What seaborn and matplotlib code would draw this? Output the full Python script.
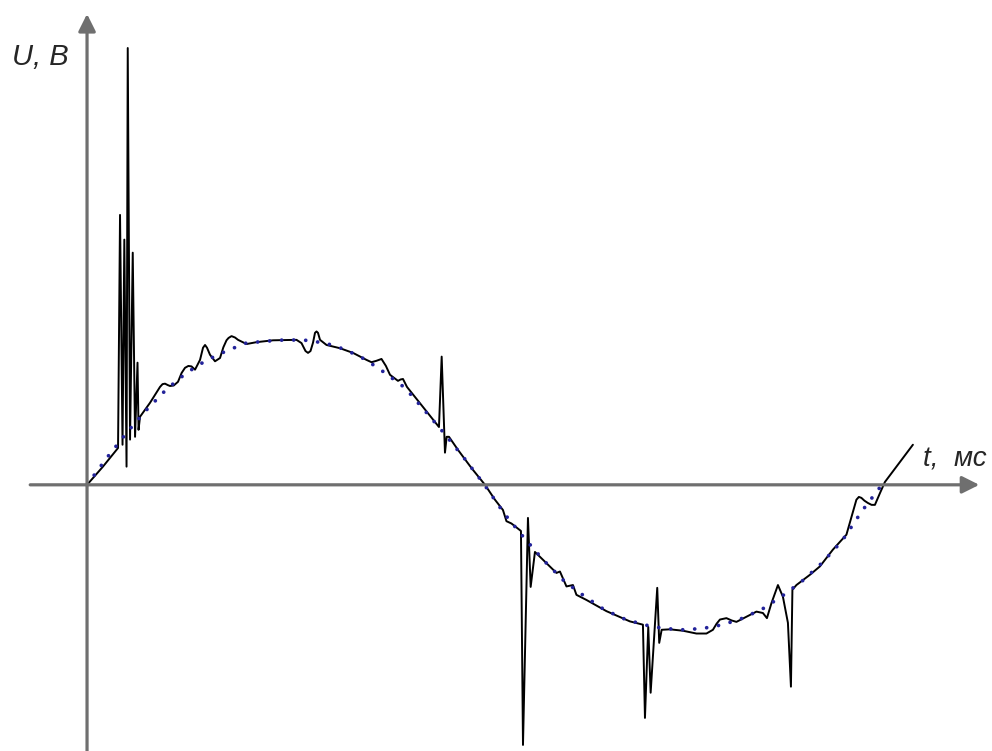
import matplotlib
matplotlib.use("Agg")
import matplotlib.pyplot as plt
import seaborn as sns

solid_t = [0.0, 0.40, 0.78, 0.83, 0.893, 0.938, 0.994, 1.024, 1.082, 1.150,
           1.208, 1.270, 1.296, 1.333, 1.585, 1.836, 1.900, 1.962, 2.030, 2.088,
           2.180, 2.289, 2.380, 2.465, 2.550, 2.629, 2.717, 2.843, 2.918, 2.969,
           3.019, 3.094, 3.220, 3.346, 3.430, 3.509, 3.560, 3.635, 3.723, 3.799,
           4.013, 4.264, 4.679, 5.270, 5.396, 5.497, 5.560, 5.623, 5.686, 5.736,
           5.774, 5.811, 5.862, 6.025, 6.365, 6.692, 7.031, 7.157, 7.280, 7.409,
           7.520, 7.623, 7.824, 7.890, 7.950, 8.050, 8.855, 8.923, 9.006, 9.049,
           9.107, 9.333, 9.673, 10.013, 10.264, 10.465, 10.553, 10.679, 10.918, 10.969,
           11.094, 11.162, 11.270, 11.522, 11.811, 11.899, 12.063, 12.226, 12.314, 12.566,
           13.069, 13.660, 13.987, 14.038, 14.121, 14.181, 14.347, 14.397, 14.458, 14.667,
           14.994, 15.333, 15.585, 15.748, 15.840, 15.925, 16.088, 16.220, 16.340, 16.591,
           16.843, 17.006, 17.107, 17.220, 17.384, 17.509, 17.635, 17.711, 17.748, 17.849,
           18.189, 18.440, 18.767, 19.107, 19.270, 19.358, 19.420, 19.484, 19.560, 19.648,
           19.740, 19.824, 19.950, 20.075, 20.780]
solid_u = [0, 39, 79, 579, 86, 526, 39, 937, 97, 498,
           103, 262, 118, 146, 176, 210, 216, 217, 214, 212,
           213, 221, 240, 251, 255, 254, 247, 268, 294, 300,
           294, 279, 265, 272, 295, 310, 315, 319, 316, 311,
           302, 306, 310, 311, 304, 287, 283, 287, 305, 326,
           329, 326, 311, 300, 293, 283, 268, 263, 266, 270,
           255, 236, 223, 226, 227, 210, 124, 275, 69, 103,
           103, 75, 36, 0, -32, -54, -78, -83, -99, -558,
           -71, -219, -144, -165, -189, -186, -218, -215, -236, -247,
           -271, -293, -300, -500, -305, -446, -221, -339, -311, -310,
           -313, -319, -319, -311, -298, -289, -286, -291, -294, -283,
           -272, -275, -286, -254, -215, -240, -296, -433, -225, -215,
           -193, -175, -139, -107, -58, -32, -26, -28, -34, -39,
           -43, -43, -18, 6, 86]

# reference wave (dotted), every 0.5 ms
ref_t = [0.0, 0.5, 1.0, 1.5, 2.0, 2.5, 3.0, 3.5, 4.0, 4.5,
         5.0, 5.5, 6.0, 6.5, 7.0, 7.5, 8.0, 8.5, 9.0, 9.5,
         10.0, 10.5, 11.0, 11.5, 12.0, 12.5, 13.0, 13.5, 14.0, 14.5,
         15.0, 15.5, 16.0, 16.5, 17.0, 17.5, 18.0, 18.5, 19.0, 19.5, 20.0]
ref_u = [0, 58, 112, 161, 205, 240, 267, 287, 304, 308,
         311, 310, 304, 290, 269, 240, 208, 159, 109, 56,
         0, -62, -114, -163, -206, -238, -267, -287, -300, -308,
         -311, -308, -300, -286, -266, -238, -206, -167, -120, -56, 0]

axis_gray = "#6f6f6f"

sns.set_style("white")
fig = plt.figure(figsize=(9.92, 7.51), dpi=100)
ax = fig.add_axes([0, 0, 1, 1])

sns.lineplot(x=solid_t, y=solid_u, ax=ax, color="black", lw=1.4,
             sort=False, estimator=None)
sns.lineplot(x=ref_t, y=ref_u, ax=ax, color="#23239a", lw=2.7,
             linestyle=(0, (0.01, 3.2)), dash_capstyle="round",
             sort=False, estimator=None)

ax.set_xlim(-2.19, 22.77)
ax.set_ylim(-571, 1040)
ax.axis("off")

# axes with arrows through the origin
ax.annotate("", xy=(22.45, 0), xytext=(-1.43, 0),
            arrowprops=dict(arrowstyle="-|>", color=axis_gray, lw=2.3,
                            mutation_scale=26, shrinkA=0, shrinkB=0))
ax.annotate("", xy=(0, 1010), xytext=(0, -575),
            arrowprops=dict(arrowstyle="-|>", color=axis_gray, lw=2.3,
                            mutation_scale=26, shrinkA=0, shrinkB=0))

fig.text(12 / 992, 1 - 65 / 751, "U, В", fontsize=21, style="italic",
         family="Liberation Sans", va="baseline")
fig.text(923 / 992, 1 - 467 / 751, "t,  мс", fontsize=20, style="italic",
         family="Liberation Sans", va="baseline")

fig.savefig("out.png", dpi=100)
